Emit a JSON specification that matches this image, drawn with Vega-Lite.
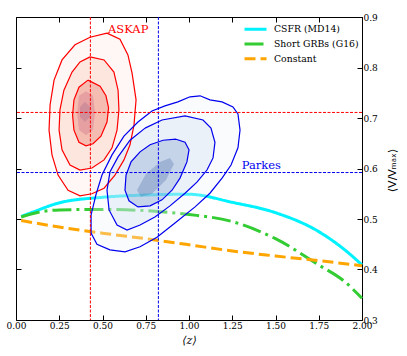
{
  "$schema": "https://vega.github.io/schema/vega-lite/v6.json",
  "width": 346,
  "height": 303,
  "autosize": {"type": "none"},
  "padding": {"left": 16, "top": 17, "right": 45, "bottom": 36},
  "background": "white",
  "config": {
    "view": {"stroke": null},
    "axis": {
      "grid": false,
      "tickSize": -5,
      "tickColor": "#000",
      "tickWidth": 1,
      "domainColor": "#000",
      "domainWidth": 1,
      "labelFont": "DejaVu Serif",
      "labelFontSize": 9,
      "labelColor": "#000",
      "labelFlush": false,
      "labelOverlap": false,
      "labelPadding": 6
    },
    "legend": {
      "orient": "none",
      "legendX": 227,
      "legendY": 7.3,
      "padding": 0,
      "symbolType": "stroke",
      "symbolStrokeWidth": 3,
      "symbolSize": 484,
      "clipHeight": 10,
      "labelFont": "DejaVu Serif",
      "labelFontSize": 9.3,
      "labelColor": "#000",
      "labelOffset": 6,
      "rowPadding": 3.7
    }
  },
  "datasets": {
    "contours": [
      {"s":"ASKAP","lv":"L1","i":0,"x":0.526,"y":0.868},
      {"s":"ASKAP","lv":"L1","i":1,"x":0.601,"y":0.856},
      {"s":"ASKAP","lv":"L1","i":2,"x":0.647,"y":0.825},
      {"s":"ASKAP","lv":"L1","i":3,"x":0.671,"y":0.789},
      {"s":"ASKAP","lv":"L1","i":4,"x":0.694,"y":0.736},
      {"s":"ASKAP","lv":"L1","i":5,"x":0.682,"y":0.686},
      {"s":"ASKAP","lv":"L1","i":6,"x":0.659,"y":0.647},
      {"s":"ASKAP","lv":"L1","i":7,"x":0.624,"y":0.617},
      {"s":"ASKAP","lv":"L1","i":8,"x":0.572,"y":0.587},
      {"s":"ASKAP","lv":"L1","i":9,"x":0.509,"y":0.561},
      {"s":"ASKAP","lv":"L1","i":10,"x":0.439,"y":0.550},
      {"s":"ASKAP","lv":"L1","i":11,"x":0.370,"y":0.546},
      {"s":"ASKAP","lv":"L1","i":12,"x":0.301,"y":0.557},
      {"s":"ASKAP","lv":"L1","i":13,"x":0.243,"y":0.587},
      {"s":"ASKAP","lv":"L1","i":14,"x":0.208,"y":0.627},
      {"s":"ASKAP","lv":"L1","i":15,"x":0.191,"y":0.676},
      {"s":"ASKAP","lv":"L1","i":16,"x":0.197,"y":0.726},
      {"s":"ASKAP","lv":"L1","i":17,"x":0.220,"y":0.775},
      {"s":"ASKAP","lv":"L1","i":18,"x":0.266,"y":0.815},
      {"s":"ASKAP","lv":"L1","i":19,"x":0.341,"y":0.845},
      {"s":"ASKAP","lv":"L1","i":20,"x":0.428,"y":0.860},
      {"s":"ASKAP","lv":"L1","i":21,"x":0.526,"y":0.868},
      {"s":"ASKAP","lv":"L2","i":0,"x":0.428,"y":0.821},
      {"s":"ASKAP","lv":"L2","i":1,"x":0.509,"y":0.815},
      {"s":"ASKAP","lv":"L2","i":2,"x":0.566,"y":0.791},
      {"s":"ASKAP","lv":"L2","i":3,"x":0.590,"y":0.755},
      {"s":"ASKAP","lv":"L2","i":4,"x":0.595,"y":0.716},
      {"s":"ASKAP","lv":"L2","i":5,"x":0.584,"y":0.676},
      {"s":"ASKAP","lv":"L2","i":6,"x":0.555,"y":0.641},
      {"s":"ASKAP","lv":"L2","i":7,"x":0.509,"y":0.617},
      {"s":"ASKAP","lv":"L2","i":8,"x":0.439,"y":0.601},
      {"s":"ASKAP","lv":"L2","i":9,"x":0.370,"y":0.597},
      {"s":"ASKAP","lv":"L2","i":10,"x":0.312,"y":0.607},
      {"s":"ASKAP","lv":"L2","i":11,"x":0.266,"y":0.637},
      {"s":"ASKAP","lv":"L2","i":12,"x":0.249,"y":0.676},
      {"s":"ASKAP","lv":"L2","i":13,"x":0.254,"y":0.716},
      {"s":"ASKAP","lv":"L2","i":14,"x":0.277,"y":0.755},
      {"s":"ASKAP","lv":"L2","i":15,"x":0.324,"y":0.791},
      {"s":"ASKAP","lv":"L2","i":16,"x":0.370,"y":0.811},
      {"s":"ASKAP","lv":"L2","i":17,"x":0.428,"y":0.821},
      {"s":"ASKAP","lv":"L3","i":0,"x":0.416,"y":0.775},
      {"s":"ASKAP","lv":"L3","i":1,"x":0.486,"y":0.763},
      {"s":"ASKAP","lv":"L3","i":2,"x":0.520,"y":0.744},
      {"s":"ASKAP","lv":"L3","i":3,"x":0.535,"y":0.720},
      {"s":"ASKAP","lv":"L3","i":4,"x":0.526,"y":0.692},
      {"s":"ASKAP","lv":"L3","i":5,"x":0.491,"y":0.664},
      {"s":"ASKAP","lv":"L3","i":6,"x":0.445,"y":0.649},
      {"s":"ASKAP","lv":"L3","i":7,"x":0.405,"y":0.645},
      {"s":"ASKAP","lv":"L3","i":8,"x":0.364,"y":0.652},
      {"s":"ASKAP","lv":"L3","i":9,"x":0.335,"y":0.676},
      {"s":"ASKAP","lv":"L3","i":10,"x":0.327,"y":0.706},
      {"s":"ASKAP","lv":"L3","i":11,"x":0.335,"y":0.736},
      {"s":"ASKAP","lv":"L3","i":12,"x":0.364,"y":0.761},
      {"s":"ASKAP","lv":"L3","i":13,"x":0.416,"y":0.775},
      {"s":"ASKAP","lv":"L4","i":0,"x":0.405,"y":0.753},
      {"s":"ASKAP","lv":"L4","i":1,"x":0.445,"y":0.744},
      {"s":"ASKAP","lv":"L4","i":2,"x":0.457,"y":0.710},
      {"s":"ASKAP","lv":"L4","i":3,"x":0.445,"y":0.676},
      {"s":"ASKAP","lv":"L4","i":4,"x":0.405,"y":0.666},
      {"s":"ASKAP","lv":"L4","i":5,"x":0.364,"y":0.676},
      {"s":"ASKAP","lv":"L4","i":6,"x":0.353,"y":0.710},
      {"s":"ASKAP","lv":"L4","i":7,"x":0.364,"y":0.744},
      {"s":"ASKAP","lv":"L5","i":0,"x":0.399,"y":0.732},
      {"s":"ASKAP","lv":"L5","i":1,"x":0.428,"y":0.722},
      {"s":"ASKAP","lv":"L5","i":2,"x":0.428,"y":0.702},
      {"s":"ASKAP","lv":"L5","i":3,"x":0.399,"y":0.692},
      {"s":"ASKAP","lv":"L5","i":4,"x":0.370,"y":0.702},
      {"s":"ASKAP","lv":"L5","i":5,"x":0.370,"y":0.722},
      {"s":"Parkes","lv":"L1","i":0,"x":1.006,"y":0.742},
      {"s":"Parkes","lv":"L1","i":1,"x":1.064,"y":0.744},
      {"s":"Parkes","lv":"L1","i":2,"x":1.121,"y":0.736},
      {"s":"Parkes","lv":"L1","i":3,"x":1.191,"y":0.732},
      {"s":"Parkes","lv":"L1","i":4,"x":1.254,"y":0.722},
      {"s":"Parkes","lv":"L1","i":5,"x":1.283,"y":0.708},
      {"s":"Parkes","lv":"L1","i":6,"x":1.295,"y":0.676},
      {"s":"Parkes","lv":"L1","i":7,"x":1.283,"y":0.641},
      {"s":"Parkes","lv":"L1","i":8,"x":1.243,"y":0.607},
      {"s":"Parkes","lv":"L1","i":9,"x":1.191,"y":0.581},
      {"s":"Parkes","lv":"L1","i":10,"x":1.121,"y":0.551},
      {"s":"Parkes","lv":"L1","i":11,"x":1.035,"y":0.524},
      {"s":"Parkes","lv":"L1","i":12,"x":0.919,"y":0.492},
      {"s":"Parkes","lv":"L1","i":13,"x":0.815,"y":0.464},
      {"s":"Parkes","lv":"L1","i":14,"x":0.717,"y":0.445},
      {"s":"Parkes","lv":"L1","i":15,"x":0.630,"y":0.435},
      {"s":"Parkes","lv":"L1","i":16,"x":0.543,"y":0.439},
      {"s":"Parkes","lv":"L1","i":17,"x":0.468,"y":0.450},
      {"s":"Parkes","lv":"L1","i":18,"x":0.434,"y":0.472},
      {"s":"Parkes","lv":"L1","i":19,"x":0.434,"y":0.508},
      {"s":"Parkes","lv":"L1","i":20,"x":0.462,"y":0.548},
      {"s":"Parkes","lv":"L1","i":21,"x":0.497,"y":0.587},
      {"s":"Parkes","lv":"L1","i":22,"x":0.555,"y":0.627},
      {"s":"Parkes","lv":"L1","i":23,"x":0.624,"y":0.664},
      {"s":"Parkes","lv":"L1","i":24,"x":0.705,"y":0.692},
      {"s":"Parkes","lv":"L1","i":25,"x":0.786,"y":0.714},
      {"s":"Parkes","lv":"L1","i":26,"x":0.861,"y":0.724},
      {"s":"Parkes","lv":"L1","i":27,"x":0.936,"y":0.732},
      {"s":"Parkes","lv":"L1","i":28,"x":1.006,"y":0.742},
      {"s":"Parkes","lv":"L2","i":0,"x":0.746,"y":0.680},
      {"s":"Parkes","lv":"L2","i":1,"x":0.844,"y":0.696},
      {"s":"Parkes","lv":"L2","i":2,"x":0.977,"y":0.704},
      {"s":"Parkes","lv":"L2","i":3,"x":1.081,"y":0.696},
      {"s":"Parkes","lv":"L2","i":4,"x":1.127,"y":0.680},
      {"s":"Parkes","lv":"L2","i":5,"x":1.150,"y":0.652},
      {"s":"Parkes","lv":"L2","i":6,"x":1.139,"y":0.621},
      {"s":"Parkes","lv":"L2","i":7,"x":1.104,"y":0.597},
      {"s":"Parkes","lv":"L2","i":8,"x":1.046,"y":0.573},
      {"s":"Parkes","lv":"L2","i":9,"x":0.977,"y":0.551},
      {"s":"Parkes","lv":"L2","i":10,"x":0.890,"y":0.526},
      {"s":"Parkes","lv":"L2","i":11,"x":0.803,"y":0.504},
      {"s":"Parkes","lv":"L2","i":12,"x":0.717,"y":0.488},
      {"s":"Parkes","lv":"L2","i":13,"x":0.642,"y":0.478},
      {"s":"Parkes","lv":"L2","i":14,"x":0.584,"y":0.488},
      {"s":"Parkes","lv":"L2","i":15,"x":0.538,"y":0.518},
      {"s":"Parkes","lv":"L2","i":16,"x":0.526,"y":0.557},
      {"s":"Parkes","lv":"L2","i":17,"x":0.543,"y":0.593},
      {"s":"Parkes","lv":"L2","i":18,"x":0.590,"y":0.623},
      {"s":"Parkes","lv":"L2","i":19,"x":0.659,"y":0.656},
      {"s":"Parkes","lv":"L2","i":20,"x":0.746,"y":0.680},
      {"s":"Parkes","lv":"L3","i":0,"x":0.925,"y":0.658},
      {"s":"Parkes","lv":"L3","i":1,"x":0.977,"y":0.652},
      {"s":"Parkes","lv":"L3","i":2,"x":1.000,"y":0.637},
      {"s":"Parkes","lv":"L3","i":3,"x":0.988,"y":0.613},
      {"s":"Parkes","lv":"L3","i":4,"x":0.948,"y":0.581},
      {"s":"Parkes","lv":"L3","i":5,"x":0.902,"y":0.557},
      {"s":"Parkes","lv":"L3","i":6,"x":0.844,"y":0.538},
      {"s":"Parkes","lv":"L3","i":7,"x":0.775,"y":0.526},
      {"s":"Parkes","lv":"L3","i":8,"x":0.705,"y":0.524},
      {"s":"Parkes","lv":"L3","i":9,"x":0.653,"y":0.536},
      {"s":"Parkes","lv":"L3","i":10,"x":0.630,"y":0.557},
      {"s":"Parkes","lv":"L3","i":11,"x":0.636,"y":0.587},
      {"s":"Parkes","lv":"L3","i":12,"x":0.665,"y":0.613},
      {"s":"Parkes","lv":"L3","i":13,"x":0.717,"y":0.633},
      {"s":"Parkes","lv":"L3","i":14,"x":0.775,"y":0.647},
      {"s":"Parkes","lv":"L3","i":15,"x":0.850,"y":0.656},
      {"s":"Parkes","lv":"L3","i":16,"x":0.925,"y":0.658},
      {"s":"Parkes","lv":"L4","i":0,"x":0.890,"y":0.621},
      {"s":"Parkes","lv":"L4","i":1,"x":0.913,"y":0.609},
      {"s":"Parkes","lv":"L4","i":2,"x":0.867,"y":0.577},
      {"s":"Parkes","lv":"L4","i":3,"x":0.786,"y":0.550},
      {"s":"Parkes","lv":"L4","i":4,"x":0.723,"y":0.544},
      {"s":"Parkes","lv":"L4","i":5,"x":0.699,"y":0.557},
      {"s":"Parkes","lv":"L4","i":6,"x":0.751,"y":0.589},
      {"s":"Parkes","lv":"L4","i":7,"x":0.832,"y":0.613}
    ],
    "curves": [
      {"series":"CSFR (MD14)","x":0.03,"y":0.505},
      {"series":"CSFR (MD14)","x":0.1,"y":0.514},
      {"series":"CSFR (MD14)","x":0.25,"y":0.532},
      {"series":"CSFR (MD14)","x":0.5,"y":0.543},
      {"series":"CSFR (MD14)","x":0.75,"y":0.5475},
      {"series":"CSFR (MD14)","x":1.0,"y":0.549},
      {"series":"CSFR (MD14)","x":1.25,"y":0.533},
      {"series":"CSFR (MD14)","x":1.5,"y":0.5125},
      {"series":"CSFR (MD14)","x":1.75,"y":0.475},
      {"series":"CSFR (MD14)","x":1.9,"y":0.439},
      {"series":"CSFR (MD14)","x":2.0,"y":0.409},
      {"series":"Short GRBs (G16)","x":0.03,"y":0.504},
      {"series":"Short GRBs (G16)","x":0.1,"y":0.511},
      {"series":"Short GRBs (G16)","x":0.25,"y":0.518},
      {"series":"Short GRBs (G16)","x":0.5,"y":0.519},
      {"series":"Short GRBs (G16)","x":0.75,"y":0.5165},
      {"series":"Short GRBs (G16)","x":1.0,"y":0.509},
      {"series":"Short GRBs (G16)","x":1.25,"y":0.495},
      {"series":"Short GRBs (G16)","x":1.5,"y":0.461},
      {"series":"Short GRBs (G16)","x":1.75,"y":0.409},
      {"series":"Short GRBs (G16)","x":1.9,"y":0.376},
      {"series":"Short GRBs (G16)","x":2.0,"y":0.343},
      {"series":"Constant","x":0.03,"y":0.497},
      {"series":"Constant","x":0.25,"y":0.484},
      {"series":"Constant","x":0.5,"y":0.472},
      {"series":"Constant","x":0.75,"y":0.461},
      {"series":"Constant","x":1.0,"y":0.449},
      {"series":"Constant","x":1.25,"y":0.4366},
      {"series":"Constant","x":1.5,"y":0.4267},
      {"series":"Constant","x":1.75,"y":0.4175},
      {"series":"Constant","x":2.0,"y":0.4075}
    ],
    "vlines": [{"s":"ASKAP","x":0.43},{"s":"Parkes","x":0.823}],
    "hlines": [{"s":"ASKAP","y":0.711},{"s":"Parkes","y":0.592}],
    "labels": [
      {"s":"ASKAP","x":0.532,"y":0.868},
      {"s":"Parkes","x":1.305,"y":0.599}
    ]
  },
  "resolve": {
    "axis": {"x": "independent", "y": "independent"},
    "scale": {"fill": "independent", "fillOpacity": "independent"}
  },
  "layer": [
    {
      "data": {"name": "contours"},
      "transform": [{"filter": "datum.s === 'ASKAP'"}],
      "mark": {"type": "line", "strokeWidth": 0, "strokeOpacity": 0},
      "encoding": {
        "x": {"field": "x", "type": "quantitative", "scale": {"domain": [0, 2], "nice": false, "zero": false},
              "axis": {"orient": "top", "labels": false, "title": null, "values": [0,0.25,0.5,0.75,1,1.25,1.5,1.75,2]}},
        "y": {"field": "y", "type": "quantitative", "scale": {"domain": [0.3, 0.9], "nice": false, "zero": false},
              "axis": {"orient": "left", "labels": false, "title": null, "values": [0.3,0.4,0.5,0.6,0.7,0.8,0.9]}},
        "order": {"field": "i", "type": "quantitative"},
        "fill": {"field": "lv", "type": "nominal", "legend": null,
                 "scale": {"domain": ["L1","L2","L3","L4","L5"], "range": ["#fff7f5","#fde6de","#f5bcb2","#e6a0a2","#cf8e9a"]}}
      }
    },
    {
      "data": {"name": "curves"},
      "mark": {"type": "line", "strokeWidth": 3, "interpolate": "monotone"},
      "encoding": {
        "x": {"field": "x", "type": "quantitative",
              "axis": {"orient": "bottom", "title": "⟨z⟩", "titleFont": "DejaVu Serif", "titleFontStyle": "italic", "titleFontWeight": "normal", "titleFontSize": 11, "titleColor": "#000", "titlePadding": 4, "format": ".2f", "values": [0,0.25,0.5,0.75,1,1.25,1.5,1.75,2]}},
        "y": {"field": "y", "type": "quantitative",
              "axis": {"orient": "right", "title": "⟨V/Vₘₐₓ⟩", "titleFont": "DejaVu Sans", "titleFontWeight": "normal", "titleFontSize": 11, "titleColor": "#000", "titleAngle": 270, "titleAlign": "center", "titleBaseline": "middle", "titleX": 30, "titleY": 153, "format": ".1f", "values": [0.3,0.4,0.5,0.6,0.7,0.8,0.9]}},
        "color": {"field": "series", "type": "nominal", "title": null,
                  "scale": {"domain": ["CSFR (MD14)","Short GRBs (G16)","Constant"], "range": ["#00f2ff","#33cc33","#ffa500"]}},
        "strokeDash": {"field": "series", "type": "nominal", "title": null,
                  "scale": {"domain": ["CSFR (MD14)","Short GRBs (G16)","Constant"], "range": [[1,0],[19,5,3,5],[11,5]]}}
      }
    },
    {
      "data": {"name": "contours"},
      "transform": [{"filter": "datum.s === 'Parkes'"}],
      "mark": {"type": "line", "strokeWidth": 0, "strokeOpacity": 0, "fillOpacity": 0.3},
      "encoding": {
        "x": {"field": "x", "type": "quantitative", "axis": null},
        "y": {"field": "y", "type": "quantitative", "axis": null},
        "order": {"field": "i", "type": "quantitative"},
        "fill": {"field": "lv", "type": "nominal", "legend": null,
                 "scale": {"domain": ["L1","L2","L3","L4"], "range": ["#eef3fa","#cadbef","#6f93c8","#4669a5"]}}
      }
    },
    {
      "data": {"name": "contours"},
      "transform": [{"filter": {"field": "lv", "oneOf": ["L1","L2","L3"]}}],
      "mark": {"type": "line"},
      "encoding": {
        "x": {"field": "x", "type": "quantitative", "axis": null},
        "y": {"field": "y", "type": "quantitative", "axis": null},
        "order": {"field": "i", "type": "quantitative"},
        "detail": {"field": "lv", "type": "nominal"},
        "stroke": {"field": "s", "type": "nominal", "legend": null,
                   "scale": {"domain": ["ASKAP","Parkes"], "range": ["#ff0000","#0000ee"]}},
        "strokeWidth": {"field": "lv", "type": "nominal", "legend": null,
                   "scale": {"domain": ["L1","L2","L3"], "range": [1.2,1.2,2.2]}}
      }
    },
    {
      "data": {"name": "vlines"},
      "mark": {"type": "rule", "strokeWidth": 1, "strokeDash": [3, 1.5]},
      "encoding": {
        "x": {"field": "x", "type": "quantitative", "axis": null},
        "stroke": {"field": "s", "type": "nominal", "legend": null}
      }
    },
    {
      "data": {"name": "hlines"},
      "mark": {"type": "rule", "strokeWidth": 1, "strokeDash": [3, 1.5]},
      "encoding": {
        "y": {"field": "y", "type": "quantitative", "axis": null},
        "stroke": {"field": "s", "type": "nominal", "legend": null}
      }
    },
    {
      "data": {"name": "labels"},
      "transform": [{"filter": "datum.s === 'ASKAP'"}],
      "mark": {"type": "text", "align": "left", "baseline": "alphabetic", "font": "DejaVu Serif", "fontSize": 11.5, "color": "#ff0000"},
      "encoding": {
        "x": {"field": "x", "type": "quantitative", "axis": null},
        "y": {"field": "y", "type": "quantitative", "axis": null},
        "text": {"field": "s"}
      }
    },
    {
      "data": {"name": "labels"},
      "transform": [{"filter": "datum.s === 'Parkes'"}],
      "mark": {"type": "text", "align": "left", "baseline": "alphabetic", "font": "DejaVu Serif", "fontSize": 11.5, "color": "#0000ee"},
      "encoding": {
        "x": {"field": "x", "type": "quantitative", "axis": null},
        "y": {"field": "y", "type": "quantitative", "axis": null},
        "text": {"field": "s"}
      }
    }
  ]
}
